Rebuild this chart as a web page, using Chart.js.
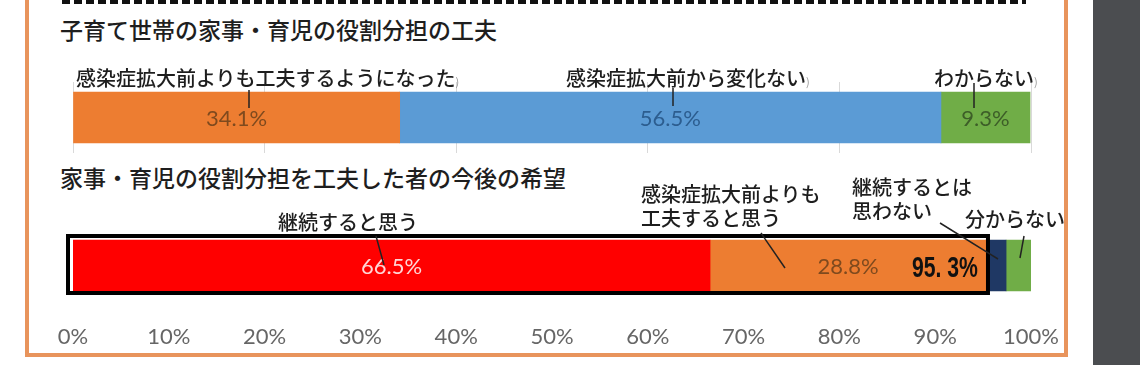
<!DOCTYPE html>
<html>
<head>
<meta charset="utf-8">
<title>家事・育児の役割分担</title>
<script src="https://cdn.jsdelivr.net/npm/chart.js@4.4.1/dist/chart.umd.min.js"></script>
<style>
  body { margin: 0; width: 1140px; height: 365px; overflow: hidden; background: #fff; position: relative;
         font-family: "Noto Sans CJK JP", sans-serif; color: #1e1e1e; }
  .abs { position: absolute; }
  #frame { left: 25px; top: -10px; width: 1043px; height: 367px; border: 4px solid #e8945c; box-sizing: border-box; }
  #side { left: 1093px; top: 0; width: 47px; height: 365px; background: #4b4d50; }
  #dash { left: 62px; top: 0; width: 964px; height: 4px;
          background: repeating-linear-gradient(to right, #111 0 8px, transparent 8px 12px); }
  .title { font-size: 23px; line-height: 1; white-space: nowrap; font-weight: 500; }
  .lbl { font-size: 20px; line-height: 24px; white-space: nowrap; font-weight: 500; }
  .tail { font-size: 11px; color: #999; font-weight: 400; }
  canvas { position: absolute; left: 0; }
  svg { position: absolute; left: 0; top: 0; }
</style>
</head>
<body>
<div id="frame" class="abs"></div>
<div id="side" class="abs"></div>
<div id="dash" class="abs"></div>

<div class="abs title" style="left:60px; top:18px">子育て世帯の家事・育児の役割分担の工夫</div>
<div class="abs title" style="left:60px; top:166px">家事・育児の役割分担を工夫した者の今後の希望</div>

<canvas id="top" width="1140" height="110" style="top:60px"></canvas>
<canvas id="bottom" width="1140" height="165" style="top:200px"></canvas>

<div id="callouts"></div>

<svg width="1140" height="365">
  <g stroke="#222" stroke-width="1.5">
    <line x1="249" y1="90" x2="249" y2="108"/>
    <line x1="673" y1="88" x2="673" y2="106"/>
    <line x1="974" y1="83" x2="974" y2="108"/>
    <line x1="376" y1="236" x2="384" y2="265"/>
    <line x1="761" y1="233" x2="785" y2="268"/>
    <line x1="940" y1="223" x2="998" y2="259"/>
    <line x1="1024" y1="236" x2="1020" y2="258"/>
  </g>
</svg>

<script>
// 子育て世帯の家事・育児の役割分担の工夫
const topLabels = ['感染症拡大前よりも工夫するようになった', '感染症拡大前から変化ない', 'わからない']
const topValues = [34.1, 56.5, 9.3]
const topColors = ['#ed7d31', '#5b9bd5', '#70ad47']
const topTextColors = ['#7f4a1e', '#2c5d8f', '#3d5e28']

// 家事・育児の役割分担を工夫した者の今後の希望
const bottomLabels = ['継続すると思う', '感染症拡大前よりも\n工夫すると思う', '継続するとは\n思わない', '分からない']
const bottomValues = [66.5, 28.8, 2.1, 2.6]
const bottomColors = ['#ff0000', '#ed7d31', '#1f3864', '#70ad47']
const bottomTextColors = ['#ffd6d6', '#7f4a1e', null, null]

const tickValues = [0, 10, 20, 30, 40, 50, 60, 70, 80, 90, 100]

// where the callout texts sit (page px)
const topCallPos = [[76, 66], [566, 66], [934, 66]]
const bottomCallPos = [[278, 210], [641, 182], [852, 175], [965, 207]]

const callouts = document.getElementById('callouts')
const addCallout = (text, pos, tail) => {
    const d = document.createElement('div')
    d.className = 'abs lbl'
    d.style.left = pos[0] + 'px'
    d.style.top = pos[1] + 'px'
    d.innerHTML = text.split('\n').join('<br>') + (tail ? '<span class="tail">)</span>' : '')
    callouts.appendChild(d)
}
topLabels.forEach((t, i) => addCallout(t, topCallPos[i], true))
bottomLabels.forEach((t, i) => addCallout(t, bottomCallPos[i], false))

const valueLabels = {
    id: 'valueLabels',
    afterDatasetsDraw(chart) {
        const ctx = chart.ctx
        ctx.save()
        ctx.font = '22px Lato'
        ctx.textAlign = 'center'
        ctx.textBaseline = 'middle'
        chart.data.datasets.forEach((ds, i) => {
            if (!ds.valueColor) return
            const el = chart.getDatasetMeta(i).data[0]
            ctx.fillStyle = ds.valueColor
            ctx.fillText(ds.data[0].toFixed(1) + '%', (el.x + el.base) / 2, el.y + 1)
        })
        ctx.restore()
    },
}

// black frame round the first two parts and their sum
const keepBox = {
    id: 'keepBox',
    afterDatasetsDraw(chart) {
        const ctx = chart.ctx
        const a = chart.getDatasetMeta(0).data[0]
        const b = chart.getDatasetMeta(1).data[0]
        const h = a.height
        ctx.save()
        ctx.lineWidth = 4
        ctx.strokeStyle = '#000'
        ctx.strokeRect(a.base - 5, a.y - h / 2 - 4, b.x - a.base + 7, h + 6)
        const sum = bottomValues[0] + bottomValues[1]
        ctx.fillStyle = '#111'
        ctx.font = 'bold 29px "Liberation Sans", Arial, sans-serif'
        ctx.textAlign = 'right'
        ctx.textBaseline = 'middle'
        ctx.fillText(sum.toFixed(1).replace('.', '. ') + '%', b.x - 8, a.y + 3, 66)
        ctx.restore()
    },
}

const makeSets = (vals, colors, textColors) =>
    vals.map((v, i) => ({
        data: [v],
        backgroundColor: colors[i],
        valueColor: textColors[i],
        borderWidth: 0,
        barThickness: 51,
    }))

new Chart(document.getElementById('top'), {
    type: 'bar',
    data: { labels: [''], datasets: makeSets(topValues, topColors, topTextColors) },
    options: {
        indexAxis: 'y',
        responsive: false,
        animation: false,
        events: [],
        layout: { padding: { left: 73, right: 109, top: 22, bottom: 17 } },
        plugins: { legend: { display: false }, tooltip: { enabled: false } },
        scales: {
            x: {
                stacked: true, min: 0, max: 100,
                ticks: { display: false, stepSize: 20 },
                grid: { color: '#d9d9d9', drawTicks: false },
                border: { display: false },
            },
            y: { stacked: true, display: false },
        },
    },
    plugins: [valueLabels],
})

new Chart(document.getElementById('bottom'), {
    type: 'bar',
    data: { labels: [''], datasets: makeSets(bottomValues, bottomColors, bottomTextColors) },
    options: {
        indexAxis: 'y',
        responsive: false,
        animation: false,
        events: [],
        layout: { padding: { left: 73, right: 109, top: 36, bottom: 11 } },
        plugins: { legend: { display: false }, tooltip: { enabled: false } },
        scales: {
            x: {
                stacked: true, min: 0, max: 100,
                afterBuildTicks: axis => { axis.ticks = tickValues.map(v => ({ value: v })) },
                ticks: {
                    callback: v => v + '%',
                    color: '#666',
                    font: { family: 'Lato', size: 22 },
                    padding: 28.6,
                    maxRotation: 0,
                    autoSkip: false,
                },
                grid: { display: false, drawTicks: false },
                border: { display: false },
            },
            y: { stacked: true, display: false },
        },
    },
    plugins: [valueLabels, keepBox],
})
</script>
</body>
</html>
